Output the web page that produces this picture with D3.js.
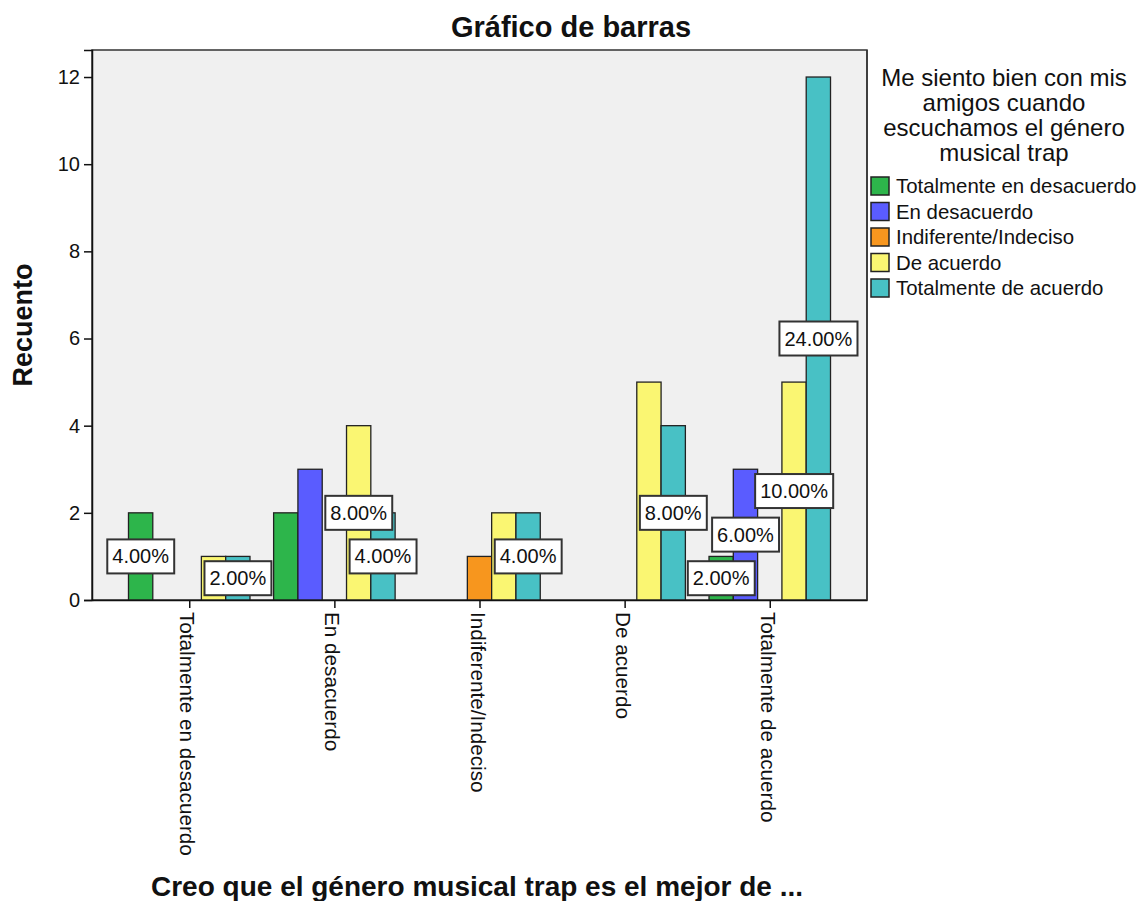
<!DOCTYPE html>
<html>
<head>
<meta charset="utf-8">
<script src="https://cdn.jsdelivr.net/npm/d3@7"></script>
<style>
    body { margin: 0; background: #fff; }
    text { font-family: "Liberation Sans", Arial, sans-serif; fill: #111; }
</style>
</head>
<body>
<script>
const categories = ["Totalmente en desacuerdo", "En desacuerdo", "Indiferente/Indeciso", "De acuerdo", "Totalmente de acuerdo"];
const series = ["Totalmente en desacuerdo", "En desacuerdo", "Indiferente/Indeciso", "De acuerdo", "Totalmente de acuerdo"];

// counts per category, one value per series
const counts = [
    [2, 0, 0, 1, 1],
    [2, 3, 0, 4, 2],
    [0, 0, 1, 2, 2],
    [0, 0, 0, 5, 4],
    [1, 3, 0, 5, 12]
];

// percentage labels that are visible on the picture ("" = hidden)
const pctLabels = [
    ["4.00%", "", "", "", "2.00%"],
    ["", "", "", "8.00%", "4.00%"],
    ["", "", "", "", "4.00%"],
    ["", "", "", "", "8.00%"],
    ["2.00%", "6.00%", "", "10.00%", "24.00%"]
];

const yTicks = [0, 2, 4, 6, 8, 10, 12];
const colors = ["#2db54b", "#5a5cff", "#f7961e", "#faf672", "#48c1c5"];

const title = "Gráfico de barras";
const xTitle = "Creo que el género musical trap es el mejor de ...";
const yTitle = "Recuento";
const legendTitle = ["Me siento bien con mis", "amigos cuando", "escuchamos el género", "musical trap"];

const margin = { top: 50, right: 273, bottom: 301, left: 92 };
const W = 1140, H = 901;
const w = W - margin.left - margin.right;
const h = H - margin.top - margin.bottom;

const svg = d3.select("body").append("svg")
    .attr("width", W)
    .attr("height", H);

const g = svg.append("g")
    .attr("transform", `translate(${margin.left},${margin.top})`);

const xScale = d3.scalePoint()
    .domain(categories)
    .range([0, w])
    .padding(0.67);

const slot = 24.3;
const xInner = d3.scaleBand()
    .domain(series)
    .range([-slot * 2.5, slot * 2.5]);

const yScale = d3.scaleLinear()
    .domain([0, 12.62])
    .range([h, 0]);

const color = d3.scaleOrdinal().domain(series).range(colors);

// plot background
g.append("rect")
    .attr("width", w)
    .attr("height", h)
    .attr("fill", "#f0f0f0")
    .attr("stroke", "#333")
    .attr("stroke-width", 1.5);

// bars
const rows = categories.map((c, i) => ({
    cat: c,
    items: series.map((s, j) => ({ cat: c, ser: s, v: counts[i][j], label: pctLabels[i][j] }))
}));

const groups = g.selectAll(".grp")
    .data(rows)
    .enter().append("g")
    .attr("class", "grp")
    .attr("transform", d => `translate(${xScale(d.cat)},0)`);

groups.selectAll("rect")
    .data(d => d.items.filter(e => e.v > 0))
    .enter().append("rect")
    .attr("x", d => xInner(d.ser))
    .attr("y", d => yScale(d.v))
    .attr("width", xInner.bandwidth())
    .attr("height", d => h - yScale(d.v))
    .attr("fill", d => color(d.ser))
    .attr("stroke", "#222")
    .attr("stroke-width", 1.3);

// axes
const yAxis = d3.axisLeft(yScale).tickValues(yTicks).tickSize(8).tickPadding(4);
const yAx = g.append("g").call(yAxis);
yAx.select(".domain").attr("stroke", "#111").attr("stroke-width", 1.5);
yAx.selectAll(".tick line").attr("stroke", "#111").attr("stroke-width", 1.5);
yAx.selectAll(".tick text")
    .style("font-family", "'Liberation Sans', Arial, sans-serif")
    .style("font-size", "20px")
    .attr("fill", "#111");

const xAxis = d3.axisBottom(xScale).tickSize(8).tickSizeOuter(0);
const xAx = g.append("g")
    .attr("transform", `translate(0,${h})`)
    .call(xAxis);
xAx.select(".domain").attr("stroke", "#111").attr("stroke-width", 1.5);
xAx.selectAll(".tick line").attr("stroke", "#111").attr("stroke-width", 1.5);
xAx.selectAll(".tick text")
    .style("font-family", "'Liberation Sans', Arial, sans-serif")
    .style("font-size", "20.7px")
    .attr("fill", "#111")
    .attr("text-anchor", "start")
    .attr("dominant-baseline", "central")
    .attr("dy", null)
    .attr("y", 0)
    .attr("x", 0)
    .attr("transform", "translate(-2,12) rotate(90)");

// right border line
g.append("line")
    .attr("x1", w).attr("x2", w)
    .attr("y1", 0).attr("y2", h)
    .attr("stroke", "#333")
    .attr("stroke-width", 1.5);

// percentage labels
const labelData = rows.flatMap(r => r.items.filter(e => e.label !== ""));
const lab = g.selectAll(".pct")
    .data(labelData)
    .enter().append("g")
    .attr("class", "pct")
    .attr("transform", d => `translate(${xScale(d.cat) + xInner(d.ser) + xInner.bandwidth() / 2},${yScale(d.v / 2)})`);

lab.append("text")
    .attr("text-anchor", "middle")
    .attr("dominant-baseline", "central")
    .style("font-size", "20px")
    .text(d => d.label);

lab.each(function () {
    const t = d3.select(this).select("text");
    const bb = t.node().getBBox();
    d3.select(this).insert("rect", "text")
        .attr("x", bb.x - 5)
        .attr("y", -17)
        .attr("width", bb.width + 10)
        .attr("height", 34)
        .attr("fill", "#fff")
        .attr("stroke", "#333")
        .attr("stroke-width", 2);
});

// titles
svg.append("text")
    .attr("x", 571)
    .attr("y", 37)
    .attr("text-anchor", "middle")
    .style("font-size", "29px")
    .style("font-weight", "bold")
    .text(title);

svg.append("text")
    .attr("x", 477)
    .attr("y", 896)
    .attr("text-anchor", "middle")
    .style("font-size", "28px")
    .style("font-weight", "bold")
    .text(xTitle);

svg.append("text")
    .attr("transform", `translate(32,${margin.top + h / 2}) rotate(-90)`)
    .attr("text-anchor", "middle")
    .style("font-size", "27px")
    .style("font-weight", "bold")
    .text(yTitle);

// legend
const legend = svg.append("g");
legend.selectAll(".lt")
    .data(legendTitle)
    .enter().append("text")
    .attr("class", "lt")
    .attr("x", 1004)
    .attr("y", (d, i) => 77 + i * 25)
    .attr("text-anchor", "middle")
    .attr("dominant-baseline", "central")
    .style("font-size", "24px")
    .text(d => d);

const item = legend.selectAll(".li")
    .data(series)
    .enter().append("g")
    .attr("class", "li")
    .attr("transform", (d, i) => `translate(871,${177 + i * 25.5})`);
item.append("rect")
    .attr("width", 18)
    .attr("height", 18)
    .attr("fill", color)
    .attr("stroke", "#222")
    .attr("stroke-width", 1.5);
item.append("text")
    .attr("x", 25)
    .attr("y", 9)
    .attr("dominant-baseline", "central")
    .style("font-size", "20.4px")
    .text(d => d);
</script>
</body>
</html>
